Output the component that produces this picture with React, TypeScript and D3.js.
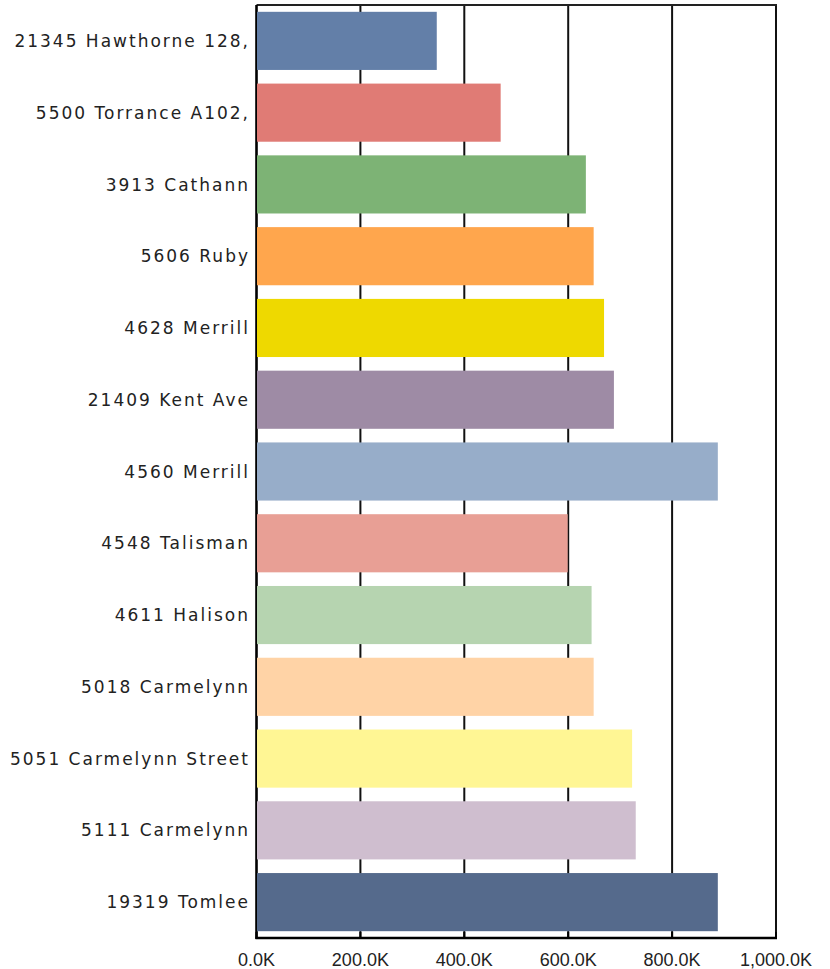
import * as d3 from 'd3';
import { useEffect, useRef } from 'react';

const addresses = [
  '21345 Hawthorne 128,',
  '5500 Torrance A102,',
  '3913 Cathann',
  '5606 Ruby',
  '4628 Merrill',
  '21409 Kent Ave',
  '4560 Merrill',
  '4548 Talisman',
  '4611 Halison',
  '5018 Carmelynn',
  '5051 Carmelynn Street',
  '5111 Carmelynn',
  '19319 Tomlee'
];

// values in thousands
const amounts = [347, 470, 634, 649, 669, 688, 888, 599, 645, 649, 723, 730, 888];

const barColors = [
  '#637fa8',
  '#e07b75',
  '#7db375',
  '#ffa64d',
  '#eed900',
  '#9e8ba5',
  '#97adc9',
  '#e89f95',
  '#b6d4b0',
  '#ffd3a6',
  '#fff694',
  '#cfbecf',
  '#556a8c'
];

const xTicks = [0, 200, 400, 600, 800, 1000];

export default function App() {
  const ref = useRef<SVGSVGElement>(null);

  useEffect(() => {
    const svg = d3.select(ref.current);
    svg.selectAll('*').remove();

    const left = 256.5;
    const right = 776;
    const top = 5;
    const bottom = 938;

    const x = d3.scaleLinear().domain([0, 1000]).range([left, right]);
    const y = d3.scaleBand().domain(addresses).range([top, bottom]).paddingInner(0.19).paddingOuter(0.095);

    const data = addresses.map((a, i) => ({ name: a, value: amounts[i], color: barColors[i] }));

    // grid lines
    svg
      .append('g')
      .selectAll('line')
      .data(xTicks.slice(1))
      .join('line')
      .attr('x1', (d) => x(d))
      .attr('x2', (d) => x(d))
      .attr('y1', top)
      .attr('y2', bottom)
      .attr('stroke', '#111')
      .attr('stroke-width', 2);

    // top border
    svg
      .append('line')
      .attr('x1', left)
      .attr('x2', right + 1)
      .attr('y1', top)
      .attr('y2', top)
      .attr('stroke', '#222')
      .attr('stroke-width', 2);

    // left axis line
    svg
      .append('line')
      .attr('x1', left)
      .attr('x2', left)
      .attr('y1', top)
      .attr('y2', bottom + 1)
      .attr('stroke', '#000')
      .attr('stroke-width', 2.6);

    // bars
    svg
      .append('g')
      .selectAll('rect')
      .data(data)
      .join('rect')
      .attr('x', x(0) + 0.5)
      .attr('y', (d) => y(d.name)!)
      .attr('width', (d) => x(d.value) - x(0) - 0.5)
      .attr('height', y.bandwidth())
      .attr('fill', (d) => d.color);

    // bottom axis
    svg
      .append('line')
      .attr('x1', left - 1)
      .attr('x2', right + 1)
      .attr('y1', bottom)
      .attr('y2', bottom)
      .attr('stroke', '#000')
      .attr('stroke-width', 2.6);

    svg
      .append('g')
      .selectAll('line')
      .data(xTicks)
      .join('line')
      .attr('x1', (d) => x(d))
      .attr('x2', (d) => x(d))
      .attr('y1', bottom - 6)
      .attr('y2', bottom)
      .attr('stroke', '#000')
      .attr('stroke-width', 2);

    svg
      .append('g')
      .selectAll('text')
      .data(xTicks)
      .join('text')
      .attr('x', (d) => x(d))
      .attr('y', 966)
      .attr('text-anchor', 'middle')
      .attr('font-family', '"Liberation Sans", Arial, sans-serif')
      .attr('font-size', 18)
      .attr('fill', '#222')
      .text((d) => d3.format(',.1f')(d) + 'K');

    // category labels
    const spacing = 2;
    svg
      .append('g')
      .selectAll('text')
      .data(data)
      .join('text')
      .attr('x', 248 + spacing)
      .attr('y', (d) => y(d.name)! + y.bandwidth() / 2)
      .attr('dy', '0.36em')
      .attr('text-anchor', 'end')
      .attr('font-family', '"DejaVu Sans", Verdana, sans-serif')
      .attr('font-size', 17)
      .attr('letter-spacing', spacing)
      .attr('fill', '#222')
      .text((d) => d.name);
  }, []);

  return (
    <svg
      ref={ref}
      width={830}
      height={969}
      style={{ position: 'absolute', left: 0, top: 0, background: '#fff' }}
    />
  );
}
